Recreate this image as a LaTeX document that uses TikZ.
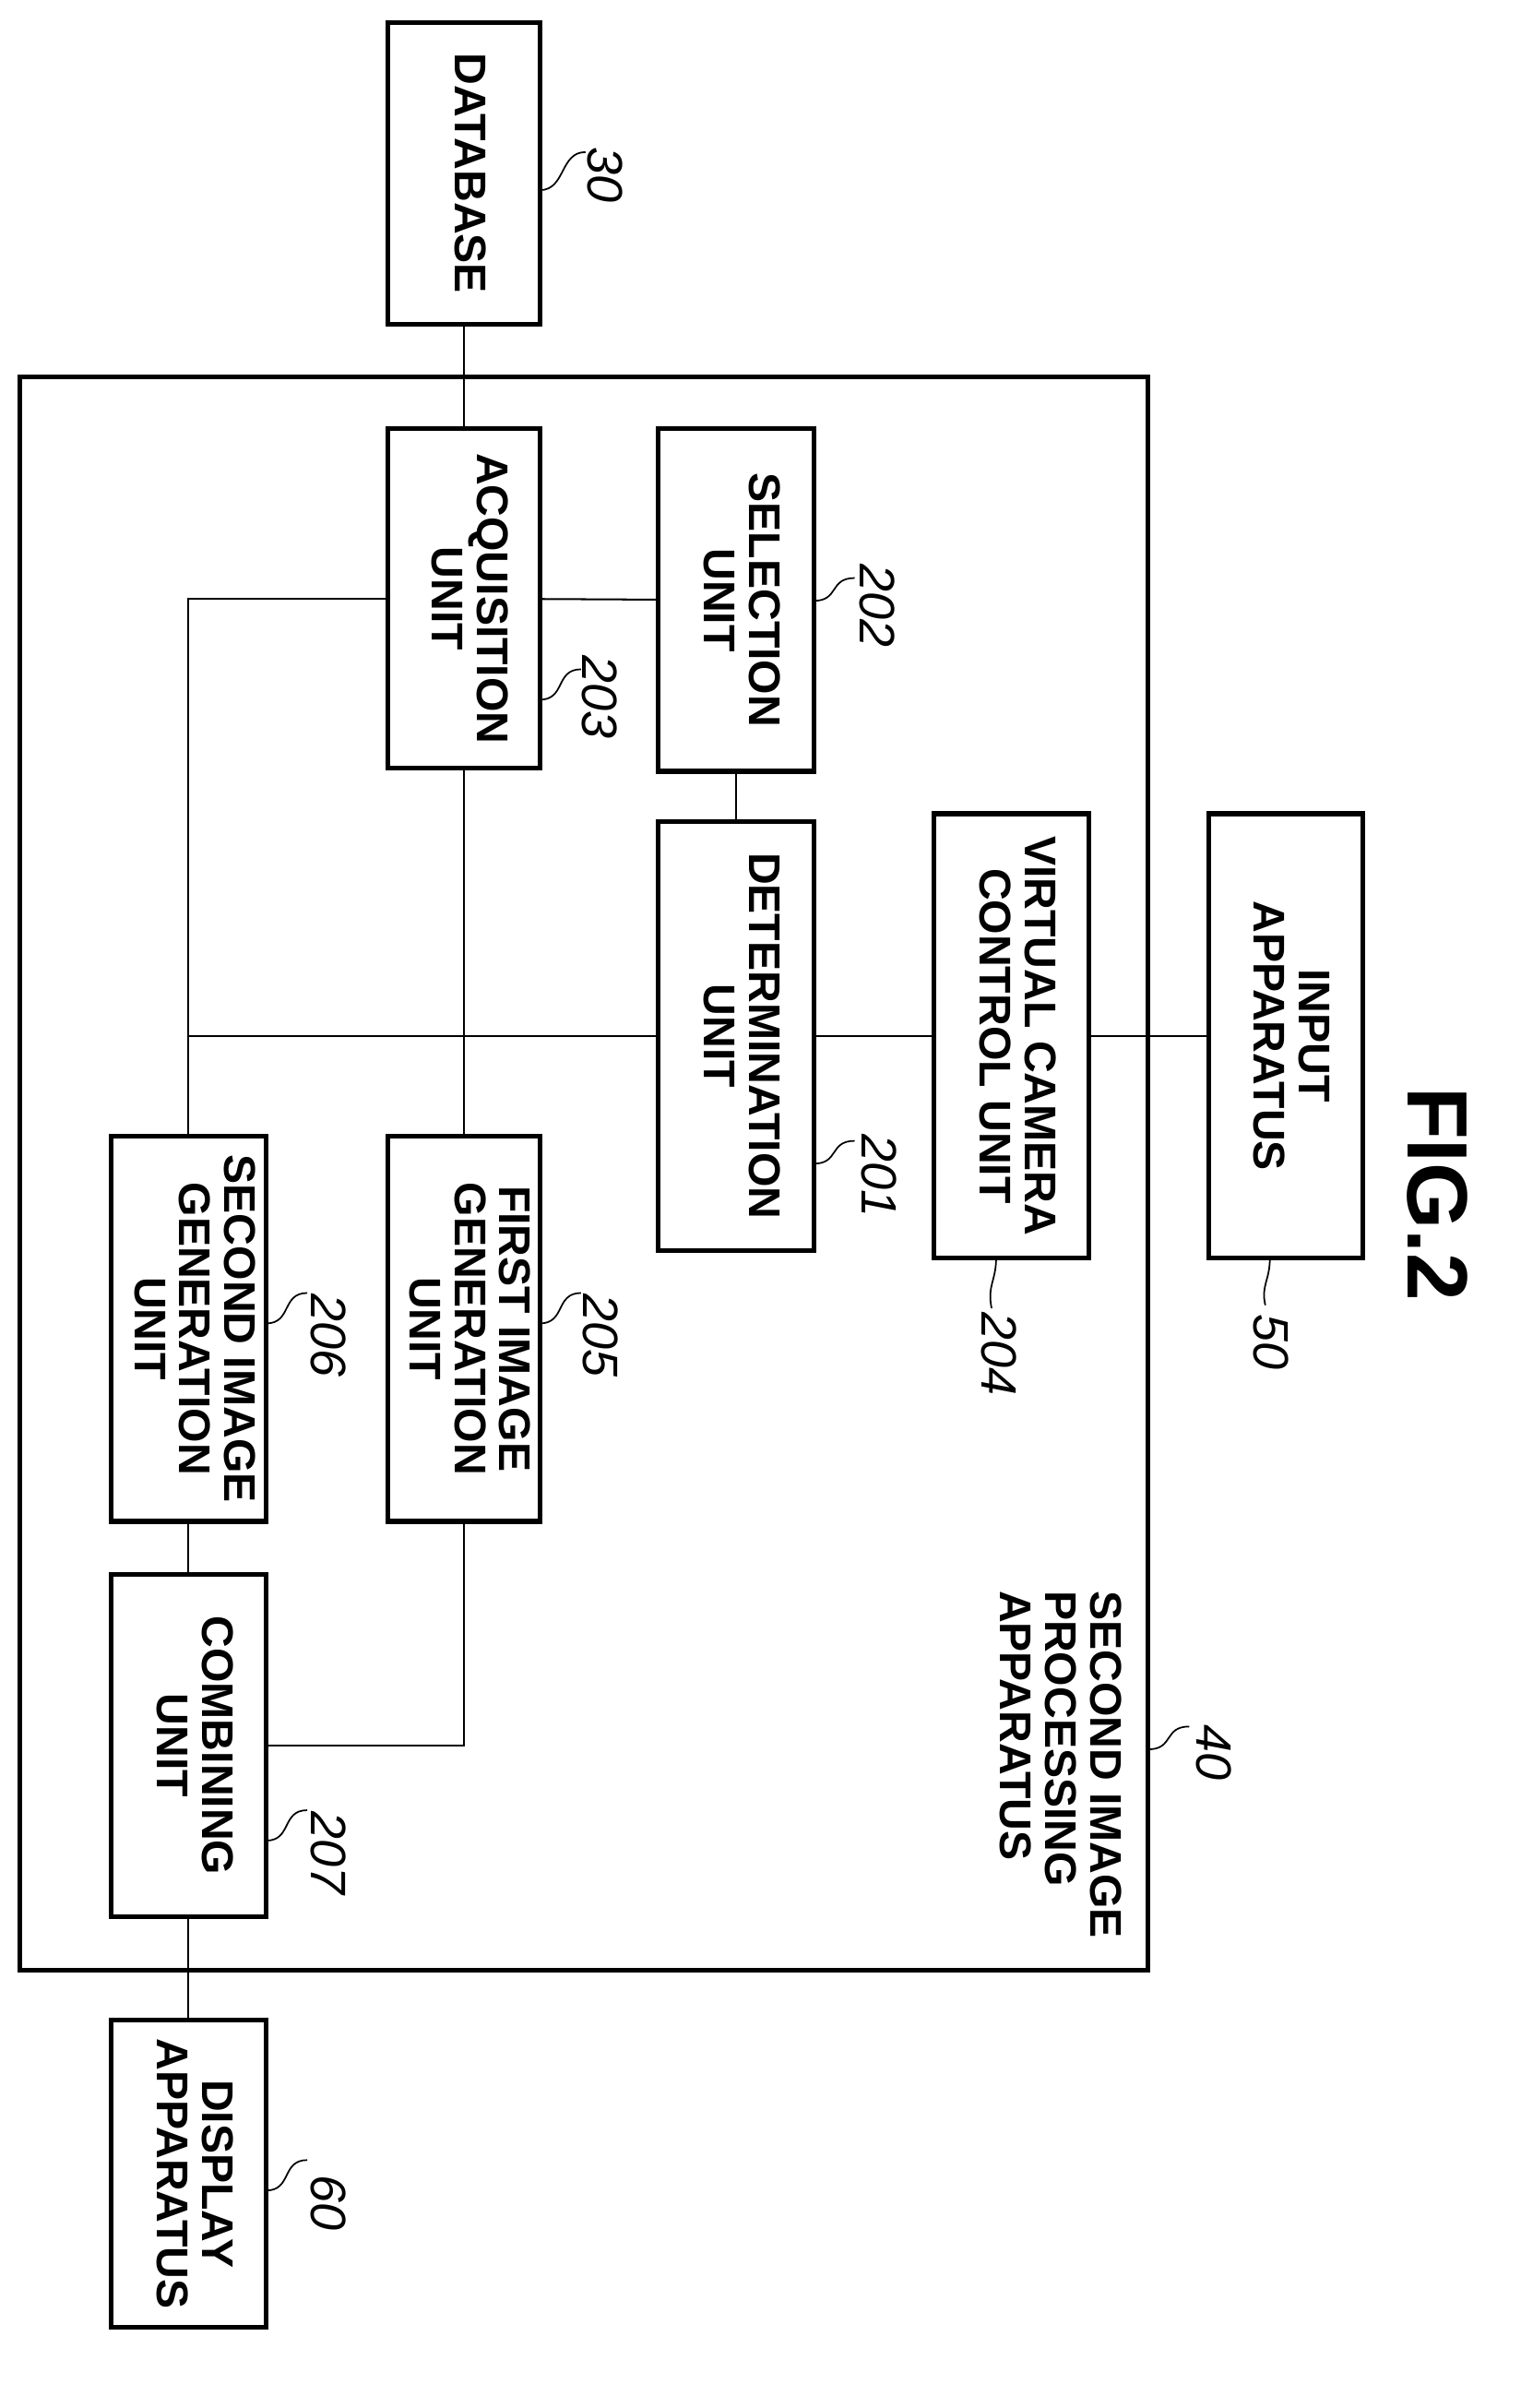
\documentclass[tikz,border=0pt]{standalone}
\usepackage{fontspec}
\setmainfont{Liberation Sans}
\usetikzlibrary{positioning}
\tikzstyle{block} = [draw, rectangle, line width=0.9pt, inner sep=0, font=\fontsize{8.3}{8.4}\selectfont\bfseries]
\tikzstyle{wire} = [line width=0.35pt]
\tikzstyle{lead} = [line width=0.3pt]
\tikzstyle{num} = [rotate=-90, inner sep=0, font=\fontsize{9.3}{9.3}\selectfont\itshape]
\newcommand{\rt}[1]{\rotatebox{-90}{\begin{tabular}{@{}c@{}}#1\end{tabular}}}

\begin{document}
\begin{tikzpicture}[x=0.01cm, y=-0.01cm]
        \useasboundingbox (0,0) rectangle (1000,1583);
        \draw [line width=0.9pt] (13,248) rectangle (755,1295);
        \node [rotate=-90, anchor=north west, align=left, inner sep=0, font=\fontsize{8.3}{8.4}\selectfont\bfseries] (title) at (738,1045) {SECOND IMAGE\\PROCESSING\\APPARATUS};
        \node [rotate=-90, inner sep=0, font=\fontsize{16}{16}\selectfont\bfseries] (fig) at (945,785) {FIG.2};

        \node [block, minimum width=1cm, minimum height=1.98cm] (database) at (305,114) {\rt{DATABASE}};
        \node [block, minimum width=1cm, minimum height=2.23cm] (acquisition) at (305,393.5) {\rt{ACQUISITION\\UNIT}};
        \node [block, minimum width=1.02cm, minimum height=2.25cm] (selection) at (484,394.5) {\rt{SELECTION\\UNIT}};
        \node [block, minimum width=1.02cm, minimum height=2.82cm] (determination) at (484,681) {\rt{DETERMINATION\\UNIT}};
        \node [block, minimum width=1.02cm, minimum height=2.92cm] (cameraControl) at (665,681) {\rt{VIRTUAL CAMERA\\CONTROL UNIT}};
        \node [block, minimum width=1.01cm, minimum height=2.92cm] (input) at (845.5,681) {\rt{INPUT\\APPARATUS}};
        \node [block, minimum width=1cm, minimum height=2.53cm] (firstGen) at (305,873.5) {\rt{FIRST IMAGE\\GENERATION\\UNIT}};
        \node [block, minimum width=1.02cm, minimum height=2.53cm] (secondGen) at (124,873.5) {\rt{SECOND IMAGE\\GENERATION\\UNIT}};
        \node [block, minimum width=1.02cm, minimum height=2.25cm] (combining) at (124,1147.5) {\rt{COMBINING\\UNIT}};
        \node [block, minimum width=1.02cm, minimum height=2.02cm] (display) at (124,1429) {\rt{DISPLAY\\APPARATUS}};

        \draw [wire] (database) -- (acquisition);
        \draw [wire] (acquisition) -- (selection);
        \draw [wire] (acquisition.west) -| (secondGen.north);
        \draw [wire] (acquisition) -- (firstGen);
        \draw [wire] (selection) -- (determination);
        \draw [wire] (determination.west) -- (determination.west -| secondGen.north);
        \draw [wire] (determination) -- (cameraControl);
        \draw [wire] (cameraControl) -- (input);
        \draw [wire] (secondGen) -- (combining);
        \draw [wire] (firstGen.south) |- (combining.east);
        \draw [wire] (combining) -- (display);

        % reference numerals
        \draw [lead] (355,125) .. controls (372,125) and (368,100) .. (385,100);
        \node [num] (n30) at (398,115) {30};
        \draw [lead] (535,395) .. controls (552,395) and (545,380) .. (562,380);
        \node [num] (n202) at (577,398) {202};
        \draw [lead] (355,460) .. controls (372,460) and (365,440) .. (382,440);
        \node [num] (n203) at (394,458) {203};
        \draw [lead] (535,765) .. controls (552,765) and (545,750) .. (562,750);
        \node [num] (n201) at (578,773) {201};
        \draw [lead] (655,827) .. controls (655,842) and (649,845) .. (652,860);
        \node [num] (n204) at (657,890) {204};
        \draw [lead] (835,827) .. controls (835,842) and (829,845) .. (832,858);
        \node [num] (n50) at (836,882) {50};
        \draw [lead] (355,870) .. controls (372,870) and (365,850) .. (382,850);
        \node [num] (n205) at (395,878) {205};
        \draw [lead] (175,870) .. controls (192,870) and (185,850) .. (202,850);
        \node [num] (n206) at (216,878) {206};
        \draw [lead] (175,1210) .. controls (192,1210) and (185,1190) .. (202,1190);
        \node [num] (n207) at (216,1218) {207};
        \draw [lead] (175,1440) .. controls (192,1440) and (185,1420) .. (202,1420);
        \node [num] (n60) at (216,1448) {60};
        \draw [lead] (755,1150) .. controls (772,1150) and (765,1135) .. (782,1135);
        \node [num] (n40) at (798,1152) {40};
\end{tikzpicture}
\end{document}
